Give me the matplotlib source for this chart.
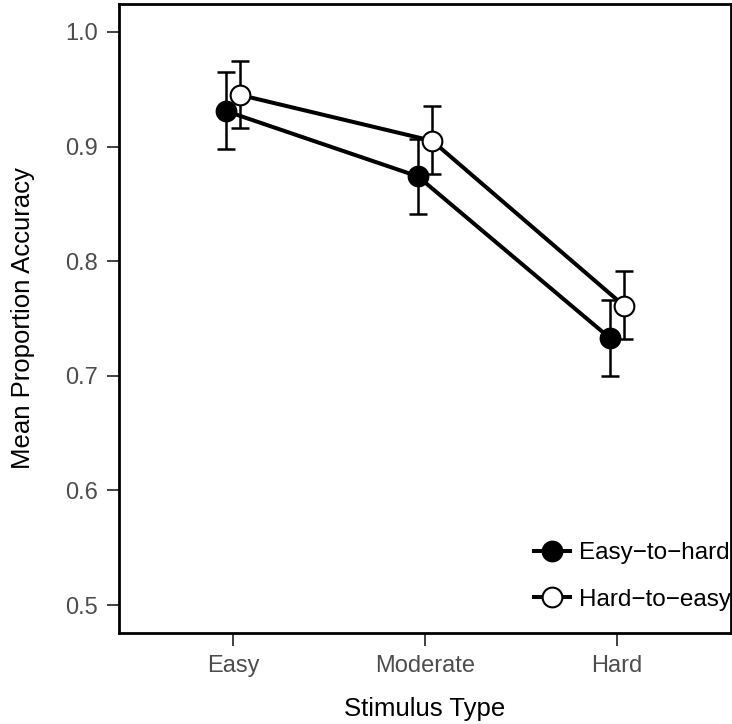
import numpy as np
import matplotlib
matplotlib.use('Agg')
import matplotlib.pyplot as plt

plt.rcParams['font.family'] = ['Liberation Sans', 'DejaVu Sans']

stimulus = ['Easy', 'Moderate', 'Hard']
groups = ['Easy\u2212to\u2212hard', 'Hard\u2212to\u2212easy']
means = {
    groups[0]: [0.931, 0.874, 0.733],
    groups[1]: [0.945, 0.905, 0.761],
}
lower = {
    groups[0]: [0.898, 0.841, 0.700],
    groups[1]: [0.916, 0.876, 0.732],
}
upper = {
    groups[0]: [0.965, 0.907, 0.766],
    groups[1]: [0.975, 0.935, 0.791],
}
dodge = {groups[0]: -0.0375, groups[1]: 0.0375}
face = {groups[0]: 'black', groups[1]: 'white'}

fig = plt.figure(figsize=(7.32, 7.24), dpi=100)
ax = fig.add_axes([0.1626, 0.1257, 0.836, 0.8688])

x = np.arange(1, len(stimulus) + 1)
for g in groups:
    xs = x + dodge[g]
    m = np.array(means[g])
    err = [m - np.array(lower[g]), np.array(upper[g]) - m]
    ax.errorbar(xs, m, yerr=err, fmt='none', ecolor='black',
                elinewidth=1.8, capsize=6.8, capthick=1.8, zorder=2)
    ax.plot(xs, m, color='black', lw=2.9, marker='o', markersize=14.2,
            markerfacecolor=face[g], markeredgecolor='black',
            markeredgewidth=1.5, label=g, zorder=3)

ax.set_xlim(0.406, 3.594)
ax.set_ylim(0.4756, 1.0244)
ax.set_xticks(x)
ax.set_xticklabels(stimulus)
ax.set_yticks([0.5, 0.6, 0.7, 0.8, 0.9, 1.0])
ax.set_yticklabels(['0.5', '0.6', '0.7', '0.8', '0.9', '1.0'])
ax.tick_params(axis='y', length=9, width=1.3, color='#333333',
               labelcolor='#4D4D4D', labelsize=17, pad=6)
ax.tick_params(axis='x', length=9, width=1.3, color='#333333',
               labelcolor='#4D4D4D', labelsize=17, pad=7)
for s in ax.spines.values():
    s.set_linewidth(2.0)
    s.set_color('black')

ax.set_xlabel('Stimulus Type', fontsize=18.5, labelpad=14)
ax.set_ylabel('Mean Proportion Accuracy', fontsize=18.5, labelpad=22)

ax.legend(loc='lower right', frameon=False, fontsize=17.5, handlelength=1.5,
          handletextpad=0.35, labelspacing=1.02, borderaxespad=0.0,
          borderpad=0.0, bbox_to_anchor=(1.0, 0.035))

fig.savefig('out.png', dpi=100)
